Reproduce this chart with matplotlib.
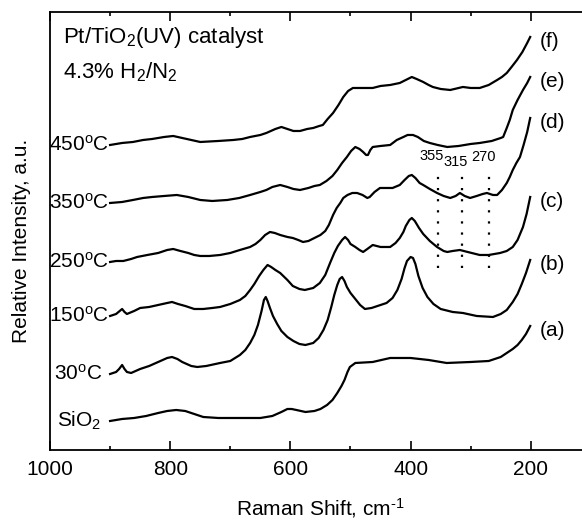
import matplotlib
matplotlib.use("Agg")
import matplotlib.pyplot as plt

plt.rcParams['font.family'] = ['Liberation Sans', 'DejaVu Sans']
plt.rcParams['mathtext.fontset'] = 'custom'
plt.rcParams['mathtext.rm'] = 'Liberation Sans'
plt.rcParams['mathtext.it'] = 'Liberation Sans:italic'
plt.rcParams['mathtext.bf'] = 'Liberation Sans:bold'

# spectra (Raman shift, relative intensity incl. stacking offset)
x_sio2 = [900, 890, 880, 860, 840, 820, 805, 790, 775, 760, 745, 720, 680, 650, 630, 615, 605, 598, 590, 575,
          560, 550, 539, 530, 522, 515, 510, 505, 501, 492, 463, 434, 400, 370, 340, 300, 270, 250, 240, 230,
          222, 215, 208, 201]
y_sio2 = [29, 30, 31, 32, 34, 37, 39, 40, 39, 36, 33, 32, 32, 32, 34, 38, 41, 41, 40, 38,
          39, 41, 45, 50, 57, 64, 70, 78, 83, 87, 88, 92, 92, 90, 87, 88, 89, 93, 97, 101,
          105, 110, 116, 124]

x_30 = [900, 890, 885, 880, 876, 872, 865, 850, 835, 820, 805, 797, 788, 780, 765, 755, 740, 717, 700, 684,
        675, 667, 660, 654, 648, 644, 641, 638, 634, 629, 622, 615, 605, 595, 585, 575, 562, 553, 545, 538,
        532, 527, 522, 518, 514, 510, 506, 500, 492, 484, 476, 465, 450, 440, 430, 422, 415, 410, 406, 400,
        396, 392, 387, 380, 372, 362, 350, 330, 313, 290, 263, 250, 240, 230, 222, 215, 208, 201]
y_30 = [76, 78, 81, 85, 81, 78, 77, 81, 84, 88, 92, 93, 91, 88, 84, 83, 84, 87, 89, 95,
        100, 107, 115, 125, 139, 150, 153, 149, 142, 134, 126, 119, 113, 109, 106, 105, 107, 112, 120, 130,
        143, 155, 165, 171, 173, 169, 163, 157, 151, 145, 141, 142, 145, 147, 152, 160, 171, 182, 189, 193,
        192, 186, 174, 162, 153, 146, 141, 138, 137, 134, 133, 136, 140, 148, 156, 166, 177, 190]

x_150 = [900, 890, 884, 880, 876, 872, 860, 850, 835, 820, 805, 797, 787, 775, 760, 745, 730, 717, 700, 684,
         675, 667, 660, 652, 645, 638, 632, 625, 617, 605, 596, 585, 576, 562, 551, 542, 534, 527, 521, 514,
         509, 504, 500, 492, 485, 479, 472, 463, 450, 434, 425, 418, 412, 408, 402, 398, 393, 386, 379, 368,
         356, 345, 339, 330, 318, 305, 285, 270, 251, 240, 230, 222, 213, 207, 201]
y_150 = [134, 136, 139, 141, 138, 136, 139, 142, 143, 145, 147, 148, 146, 144, 141, 141, 142, 143, 146, 150,
         154, 160, 166, 174, 180, 185, 183, 180, 177, 170, 164, 161, 160, 162, 167, 175, 187, 197, 204, 210,
         213, 210, 206, 203, 200, 198, 201, 205, 203, 203, 207, 212, 218, 224, 230, 232, 229, 222, 216, 209,
         203, 199, 198, 199, 200, 198, 195, 195, 197, 199, 203, 210, 223, 236, 253]

x_250 = [900, 890, 878, 865, 855, 838, 820, 805, 795, 783, 770, 760, 750, 735, 717, 700, 684, 667, 658, 650,
         642, 634, 626, 617, 605, 596, 587, 579, 570, 560, 550, 542, 536, 529, 523, 517, 512, 505, 497, 489,
         480, 472, 468, 460, 451, 440, 430, 418, 410, 403, 398, 392, 385, 379, 368, 356, 345, 334, 325, 318,
         310, 301, 290, 280, 273, 263, 256, 248, 240, 235, 230, 224, 218, 212, 206, 201]
y_250 = [188, 189, 189, 191, 193, 195, 197, 200, 201, 199, 197, 195, 194, 194, 195, 197, 200, 203, 206, 210,
         215, 218, 217, 215, 213, 212, 210, 208, 209, 212, 215, 219, 225, 235, 242, 247, 252, 255, 257, 257,
         255, 252, 253, 258, 262, 262, 262, 265, 270, 274, 275, 272, 267, 265, 261, 257, 254, 252, 254, 257,
         254, 252, 254, 256, 257, 255, 255, 260, 267, 273, 280, 287, 293, 305, 318, 332]

x_350 = [900, 880, 862, 845, 830, 810, 789, 770, 750, 730, 705, 685, 667, 650, 640, 630, 617, 605, 595, 584,
         570, 560, 551, 540, 530, 522, 514, 506, 499, 492, 485, 479, 474, 471, 467, 463, 450, 434, 423, 412,
         405, 396, 388, 378, 368, 355, 339, 320, 300, 285, 265, 250, 246, 240, 235, 230, 222, 213, 206, 201]
y_350 = [247, 248, 250, 252, 253, 254, 255, 253, 250, 249, 250, 252, 255, 258, 260, 263, 265, 263, 261, 260,
         262, 264, 265, 269, 274, 280, 287, 293, 299, 303, 301, 298, 295, 295, 300, 303, 304, 305, 310, 313,
         315, 315, 313, 309, 307, 305, 303, 304, 306, 307, 309, 312, 313, 322, 330, 340, 350, 360, 367, 373]

x_450 = [900, 880, 862, 845, 830, 810, 795, 780, 765, 750, 720, 695, 680, 667, 650, 640, 625, 615, 605, 595,
         584, 572, 562, 552, 546, 538, 529, 520, 512, 504, 496, 480, 463, 450, 434, 418, 408, 398, 390, 379,
         370, 363, 350, 334, 313, 300, 285, 270, 256, 248, 240, 232, 223, 214, 206, 201]
y_450 = [305, 307, 308, 310, 311, 313, 314, 312, 310, 308, 309, 310, 311, 313, 315, 317, 321, 323, 321, 319,
         319, 321, 322, 324, 325, 331, 337, 345, 353, 359, 362, 362, 362, 364, 365, 367, 370, 373, 371, 368,
         365, 363, 361, 360, 363, 362, 362, 365, 370, 373, 377, 383, 390, 398, 407, 413]

spectra = [(x_sio2, y_sio2), (x_30, y_30), (x_150, y_150), (x_250, y_250), (x_350, y_350), (x_450, y_450)]
left_labels = ['SiO$_2$', '30$^{\\mathrm{o}}$C', '150$^{\\mathrm{o}}$C', '250$^{\\mathrm{o}}$C',
               '350$^{\\mathrm{o}}$C', '450$^{\\mathrm{o}}$C']
left_gap = [-6, -6, -1, -1, -1, -1]
right_labels = ['(a)', '(b)', '(c)', '(d)', '(e)', '(f)']

# marked bands on spectrum (c)
band_pos = [355, 315, 270]
band_lo = 182
band_hi = 280

fig = plt.figure(figsize=(5.82, 5.23), dpi=100)
ax = fig.add_axes([0.0859, 0.1396, 0.9141, 0.8375])

for (xs, ys), ll, gap, rl in zip(spectra, left_labels, left_gap, right_labels):
    ax.plot(xs, ys, color='black', lw=1.6)
    ax.annotate(ll, (xs[0], ys[0]), xytext=(gap, 0), textcoords='offset points',
                ha='right', va='center', fontsize=15)
    ax.annotate(rl, (xs[-1], ys[-1]), xytext=(7, -3), textcoords='offset points',
                ha='left', va='center', fontsize=15)

ax.vlines(band_pos, band_lo, band_hi, colors='black', linestyles=(0, (1, 4)), lw=1.6)
for b, dy in zip(band_pos, [0, -4, -1]):
    ax.annotate(str(b), (b, band_hi), xytext=(-4, 5 + dy), textcoords='offset points',
                ha='center', va='bottom', fontsize=10.5)

ax.text(0.024, 0.929, 'Pt/TiO$_2$(UV) catalyst', transform=ax.transAxes, fontsize=16, va='baseline')
ax.text(0.024, 0.849, '4.3% H$_2$/N$_2$', transform=ax.transAxes, fontsize=16, va='baseline')

ax.set_xlim(1000, 114.8)
ax.set_ylim(0, 438)
ax.set_xticks([1000, 800, 600, 400, 200])
ax.set_xticks([900, 700, 500, 300], minor=True)
ax.set_yticks([])
ax.tick_params(axis='x', which='both', direction='in', top=True, labelsize=15, pad=7, width=1.2)
ax.tick_params(axis='x', which='major', length=6.5)
ax.tick_params(axis='x', which='minor', length=3)
for s in ['left', 'bottom', 'top']:
    ax.spines[s].set_linewidth(1.3)
ax.spines['right'].set_visible(False)

ax.set_xlabel('Raman Shift, cm$^{\\text{-1}}$', fontsize=15)
ax.xaxis.label.set_va('center')
ax.xaxis.set_label_coords(0.509, -0.132)
ax.set_ylabel('Relative Intensity, a.u.', fontsize=15)
ax.yaxis.label.set_va('center')
ax.yaxis.set_label_coords(-0.053, 0.477)

fig.savefig('out.png', dpi=100)
